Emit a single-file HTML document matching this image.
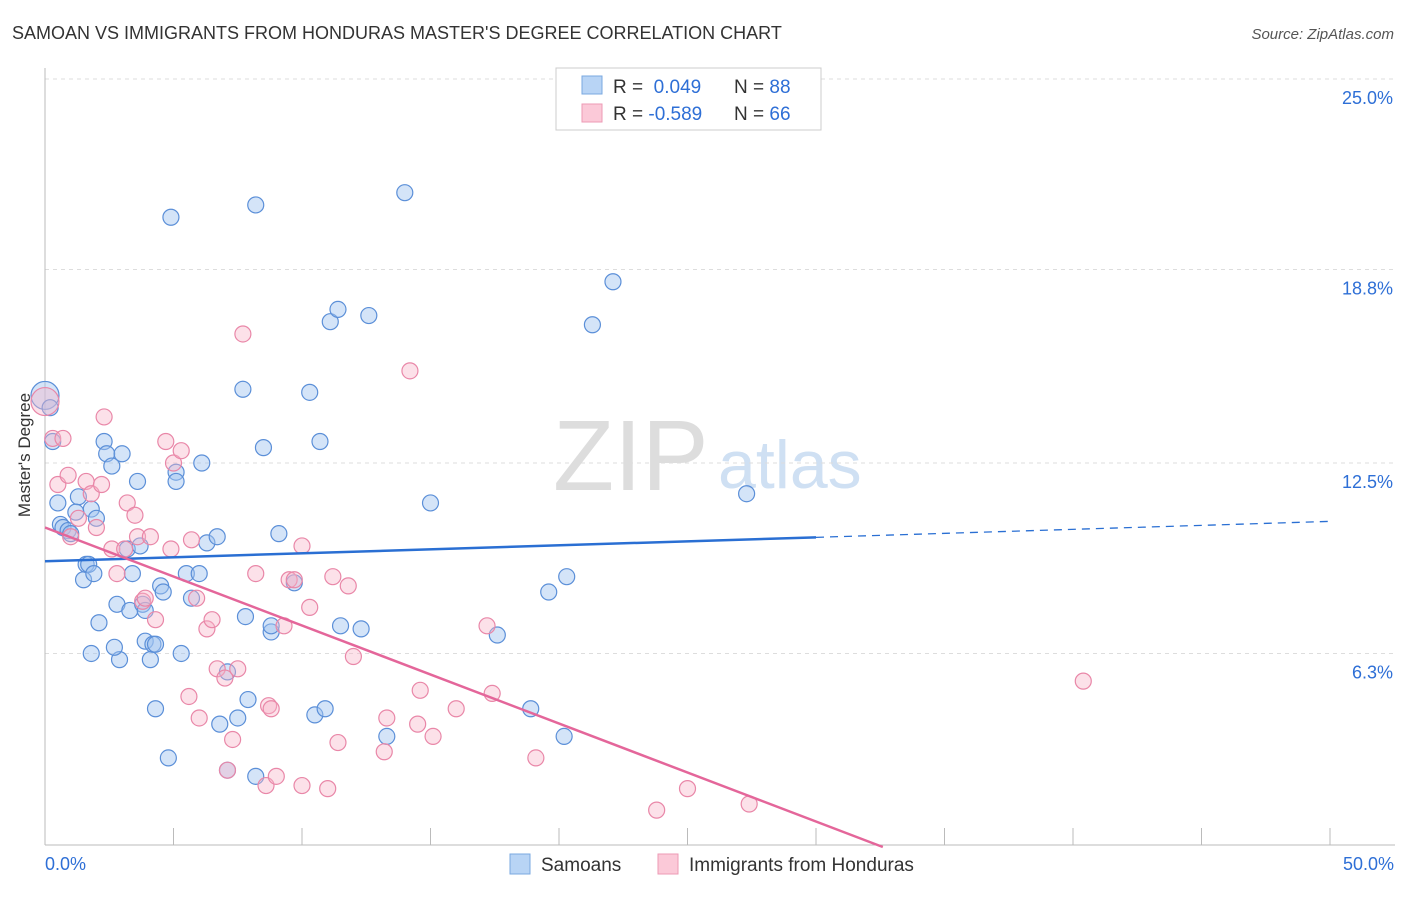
<!DOCTYPE html>
<html><head><meta charset="utf-8"><style>
body{margin:0;background:#fff;font-family:"Liberation Sans",sans-serif;}
svg text{font-family:"Liberation Sans",sans-serif;}
</style></head><body>
<svg id="c" width="1406" height="892">
<text x="12" y="39" font-size="18" fill="#333">SAMOAN VS IMMIGRANTS FROM HONDURAS MASTER'S DEGREE CORRELATION CHART</text>
<text x="1394" y="39" font-size="15" fill="#555" text-anchor="end" font-style="italic">Source: ZipAtlas.com</text>
<text x="30" y="455" font-size="17" fill="#333" text-anchor="middle" transform="rotate(-90 30 455)">Master's Degree</text>
<text x="553" y="490" font-size="100" fill="#ddd" font-family="Liberation Serif">ZIP</text>
<text x="718" y="488" font-size="68" fill="#cfe0f3">atlas</text>
<g id="grid"></g><g id="pts"></g><g id="lines"></g>
<g>
<rect x="556" y="68" width="265" height="62" fill="#fff" stroke="#ccc"/>
<rect x="582" y="76" width="20" height="18" fill="#b8d4f5" stroke="#7aa8e0"/>
<rect x="582" y="104" width="20" height="18" fill="#fbc9d8" stroke="#ec9ab5"/>
<text x="613" y="93" font-size="19" fill="#333">R = <tspan fill="#2e6fd6">&#160;0.049</tspan><tspan x="734">N = </tspan><tspan fill="#2e6fd6">88</tspan></text>
<text x="613" y="120" font-size="19" fill="#333">R = <tspan fill="#2e6fd6">-0.589</tspan><tspan x="734">N = </tspan><tspan fill="#2e6fd6">66</tspan></text>
</g>
<g>
<rect x="510" y="854" width="20" height="20" fill="#b8d4f5" stroke="#7aa8e0"/>
<text x="541" y="871" font-size="19" fill="#333">Samoans</text>
<rect x="658" y="854" width="20" height="20" fill="#fbc9d8" stroke="#ec9ab5"/>
<text x="689" y="871" font-size="19" fill="#333">Immigrants from Honduras</text>
</g>
</svg>
<script>
const yTicks=[25.0,18.8,12.5,6.3];
const yTickLabels=["25.0%","18.8%","12.5%","6.3%"];
const xTickLabels=["0.0%","50.0%"];
const samoanX=[0,0.2,0.3,0.5,0.6,0.7,0.9,1.0,1.3,1.2,1.5,1.6,1.7,1.8,1.9,2.0,2.1,1.8,2.3,2.4,2.6,3.0,2.9,2.7,2.8,3.2,3.3,3.4,3.6,3.7,3.8,3.9,3.9,4.1,4.2,4.3,4.3,4.5,4.6,4.8,4.9,5.1,5.1,5.3,5.5,5.7,6.0,6.1,6.3,6.7,6.8,7.1,7.1,7.5,7.7,7.8,7.9,8.2,8.2,8.5,8.8,8.8,9.1,9.7,10.3,10.5,10.7,10.9,11.1,11.4,11.5,12.3,12.6,13.3,14.0,15.0,17.6,18.9,19.6,20.2,20.3,21.3,22.1,27.3];
const samoanY=[14.7,14.3,13.2,11.2,10.5,10.4,10.3,10.2,11.4,10.9,8.7,9.2,9.2,11.0,8.9,10.7,7.3,6.3,13.2,12.8,12.4,12.8,6.1,6.5,7.9,9.7,7.7,8.9,11.9,9.8,7.9,7.7,6.7,6.1,6.6,6.6,4.5,8.5,8.3,2.9,20.5,12.2,11.9,6.3,8.9,8.1,8.9,12.5,9.9,10.1,4.0,5.7,2.5,4.2,14.9,7.5,4.8,2.3,20.9,13.0,7.0,7.2,10.2,8.6,14.8,4.3,13.2,4.5,17.1,17.5,7.2,7.1,17.3,3.6,21.3,11.2,6.9,4.5,8.3,3.6,8.8,17.0,18.4,11.5];
const hondX=[0,0.3,0.7,0.5,0.9,1,1.3,1.6,1.8,2,2.2,2.3,2.6,2.8,3.1,3.2,3.5,3.6,3.8,3.9,4.1,4.3,4.7,4.9,5,5.3,5.6,5.7,5.9,6,6.3,6.5,6.7,7,7.1,7.3,7.5,7.7,8.2,8.6,8.7,8.8,9,9.3,9.5,9.7,10,10,10.3,11,11.2,11.4,11.8,12.0,13.2,13.3,14.2,14.5,14.6,15.1,16.0,17.2,17.4,19.1,23.8,25.0,27.4,40.4];
const hondY=[14.5,13.3,13.3,11.8,12.1,10.1,10.7,11.9,11.5,10.4,11.8,14.0,9.7,8.9,9.7,11.2,10.8,10.1,8.0,8.1,10.1,7.4,13.2,9.7,12.5,12.9,4.9,10.0,8.1,4.2,7.1,7.4,5.8,5.5,2.5,3.5,5.8,16.7,8.9,2.0,4.6,4.5,2.3,7.2,8.7,8.7,2.0,9.8,7.8,1.9,8.8,3.4,8.5,6.2,3.1,4.2,15.5,4.0,5.1,3.6,4.5,7.2,5.0,2.9,1.2,1.9,1.4,5.4];
const blueTrend=[9.3,10.6];const pinkTrend=[10.4,0];const trendX=[0,50];const blueSolidEnd=30;
const NS="http://www.w3.org/2000/svg";
const X=v=>45+v/50*1285, Y=v=>847-v*30.72;
function mk(tag,attrs,parent){const e=document.createElementNS(NS,tag);for(const k in attrs)e.setAttribute(k,attrs[k]);parent.appendChild(e);return e;}
const grid=document.getElementById('grid');
yTicks.forEach((t,i)=>{
 const l=mk('line',{x1:45,x2:1395,y1:Y(t),y2:Y(t),stroke:'#ddd','stroke-dasharray':'4,4'},grid);
 
 
 const tx=mk('text',{x:1393,y:Y(t)+25,'font-size':18,fill:'#2e6fd6','text-anchor':'end'},grid);tx.textContent=yTickLabels[i];
 
 
});
mk('line',{x1:45,x2:45,y1:68,y2:845,stroke:'#bbb'},grid);
mk('line',{x1:45,x2:1395,y1:845,y2:845,stroke:'#bbb'},grid);
for(let i=0;i<=10;i++){mk('line',{x1:X(i*5),x2:X(i*5),y1:828,y2:845,stroke:'#bbb'},grid);}
const xl0=mk('text',{x:45,y:870,'font-size':18,fill:'#2e6fd6'},grid);xl0.textContent=xTickLabels[0];


const xl1=mk('text',{x:1394,y:870,'font-size':18,fill:'#2e6fd6','text-anchor':'end'},grid);xl1.textContent=xTickLabels[1];


const pts=document.getElementById('pts');
samoanX.forEach((v,i)=>{const c=mk('circle',{cx:X(v),cy:Y(samoanY[i]),r:i==0?14:8,fill:'rgba(160,196,240,0.45)',stroke:'#5b8fd8','stroke-width':1.2},pts);
 
 });
hondX.forEach((v,i)=>{const c=mk('circle',{cx:X(v),cy:Y(hondY[i]),r:i==0?14:8,fill:'rgba(248,180,200,0.4)',stroke:'#e987a8','stroke-width':1.2},pts);
 
 });
const lines=document.getElementById('lines');
const by=x=>blueTrend[0]+(blueTrend[1]-blueTrend[0])*(x-trendX[0])/(trendX[1]-trendX[0]);
const b1=mk('line',{x1:X(0),y1:Y(by(0)),x2:X(blueSolidEnd),y2:Y(by(blueSolidEnd)),stroke:'#2a6fd3','stroke-width':2.5},lines);


const b2=mk('line',{x1:X(blueSolidEnd),y1:Y(by(blueSolidEnd)),x2:X(50),y2:Y(by(50)),stroke:'#2a6fd3','stroke-width':1.3,'stroke-dasharray':'8,6'},lines);


const pEnd=32.6;
const py=x=>pinkTrend[0]+(pinkTrend[1]-pinkTrend[0])*x/pEnd;
const p1=mk('line',{x1:X(0),y1:Y(py(0)),x2:X(pEnd),y2:Y(py(pEnd)),stroke:'#e4669a','stroke-width':2.5},lines);


</script>
</body></html>
